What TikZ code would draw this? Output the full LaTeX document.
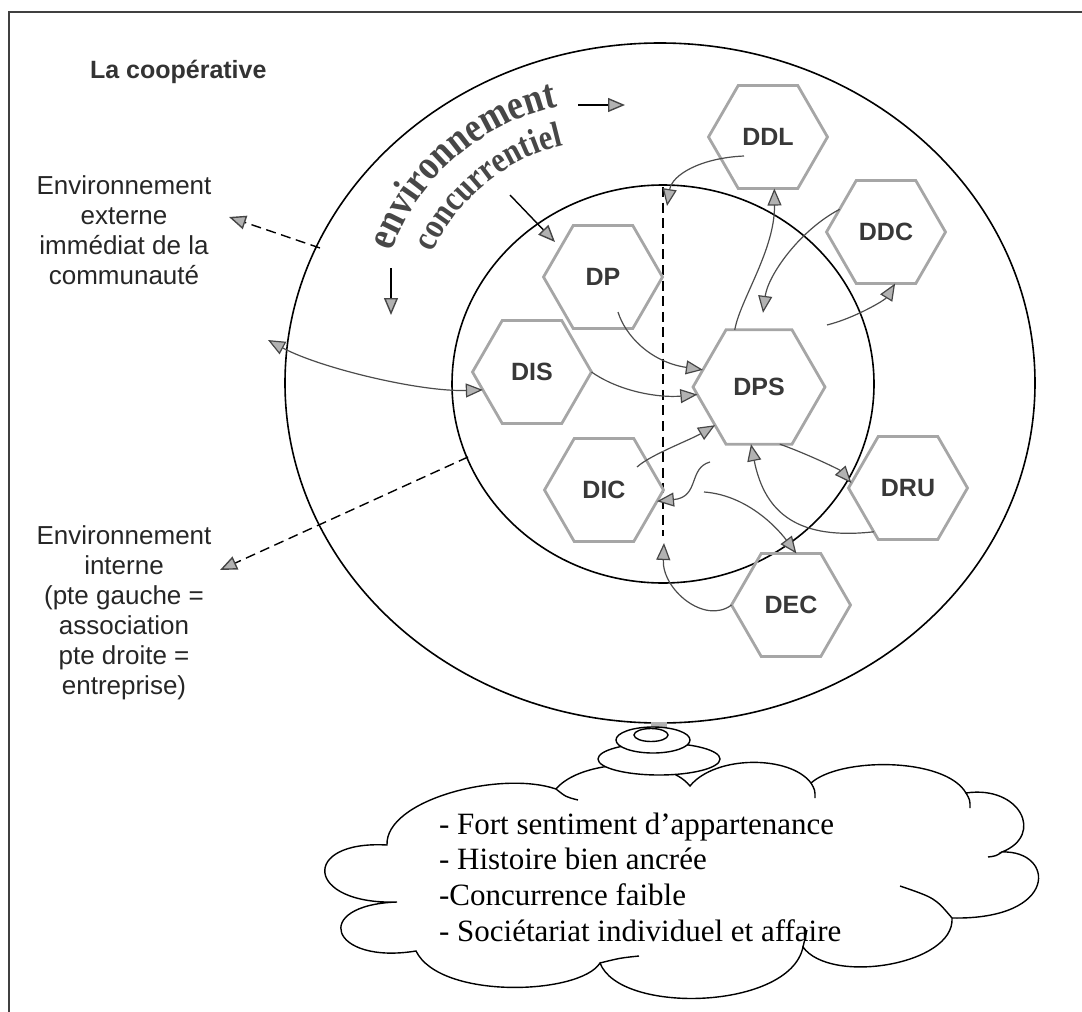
\documentclass[tikz,border=0pt]{standalone}
\usepackage{fontspec}
\setmainfont{Liberation Sans}
\newfontfamily\cloudfont{Liberation Serif}
\newfontfamily\arcfont[FakeStretch=0.85]{Liberation Serif}
\usetikzlibrary{shapes.geometric,arrows.meta,decorations.text,calc}

\begin{document}
\begin{tikzpicture}[x=0.5pt,y=0.5pt,
  >={Triangle[length=8.5pt,width=7pt,color=gray!55!black,fill=gray!60]},
  hexa/.style={regular polygon,regular polygon sides=6,minimum size=59.5pt,
    inner sep=0pt,outer sep=0pt,draw=gray!70,line width=1.4pt,
    font=\fontsize{12.5}{14}\selectfont\bfseries,text=black!78},
  bighexa/.style={hexa,minimum size=66pt},
  conn/.style={draw=gray!60!black,line width=0.6pt},
  plain/.style={draw=black,line width=0.7pt},
  dsh/.style={draw=black,line width=0.7pt,dash pattern=on 5pt off 2.8pt},
  ring/.style={draw=black,line width=0.8pt},
  lab/.style={font=\fontsize{13}{15}\selectfont,align=center,text=black!85}
]
\useasboundingbox (0,0) rectangle (1082,-1012);

% page frame (top and left edges)
\draw[line width=0.8pt,black!75] (1082,-12) -- (9,-12) -- (9,-1012);

% the two environments
\draw[ring] (660,-383) ellipse [x radius=375,y radius=340];
\draw[ring] (663,-384) ellipse [x radius=211,y radius=199];

% association / entreprise divide
\coordinate (dashT) at (663,-187);
\coordinate (dashB) at (664,-543);
\coordinate (ddlin) at (667,-206);
\draw[dsh] (dashT) -- (663,-536);

% arched title of the outer ring
\path[decorate,decoration={text along path,text align=center,
  text={|\arcfont\bfseries\fontsize{21}{21}\selectfont\color{black!72}|environnement}}]
  (605,-329) ++(176:227) arc[start angle=176,end angle=86,radius=227];
\path[decorate,decoration={text along path,text align=center,
  text={|\arcfont\bfseries\fontsize{18}{18}\selectfont\color{black!72}|concurrentiel}}]
  (605,-329) ++(174.5:188) arc[start angle=174.5,end angle=84.5,radius=188];

% rotation arrows around the arched title
\coordinate (r1s) at (578,-105); \coordinate (r1e) at (625,-105);
\coordinate (r2s) at (510,-195); \coordinate (r2e) at (555,-242);
\coordinate (r3s) at (391,-268); \coordinate (r3e) at (391,-315);
\draw[plain,->] (r1s) -- (r1e);
\draw[plain,->] (r2s) -- (r2e);
\draw[plain,->] (r3s) -- (r3e);

% labels on the left
\node[anchor=west,font=\fontsize{12.5}{14}\selectfont\bfseries,text=black!80] (title) at (83,-72) {La coopérative};
\node[lab] (extlab) at (124,-230) {Environnement\\externe\\immédiat de la\\communauté};
\node[lab] (intlab) at (124,-613) {Environnement\\interne\\(pte gauche =\\association\\pte droite =\\entreprise)};

\coordinate (d1s) at (320,-248); \coordinate (d1e) at (229,-217);
\coordinate (d2s) at (468,-457); \coordinate (d2e) at (220,-570);
\draw[dsh,->] (d1s) -- (d1e);
\draw[dsh,->] (d2s) -- (d2e);

% directions
\node[hexa] (DDL) at (768,-137) {DDL};
\node[hexa] (DDC) at (886,-232) {DDC};
\node[hexa] (DP)  at (603,-277) {DP};
\node[hexa] (DIS) at (532,-372) {DIS};
\node[bighexa] (DPS) at (759,-387) {DPS};
\node[hexa] (DIC) at (604,-490) {DIC};
\node[hexa] (DRU) at (908,-488) {DRU};
\node[hexa] (DEC) at (791,-605) {DEC};

% flows between directions
\coordinate (extL) at (268,-340);
\draw[conn,<->] (extL) .. controls (320,-368) and (420,-392) .. (DIS.200);
\draw[conn,->] ($(DP)+(15,-35)$) .. controls (625,-335) and (650,-362) .. (DPS.163);
\draw[conn,->] (DIS.east) .. controls (620,-392) and (660,-398) .. (DPS.187);
\draw[conn,->] ($(DIC)+(33,23)$) .. controls (650,-455) and (690,-440) .. (DPS.221);
\draw[conn,->] ($(DPS)+(-49,-75)$) .. controls (688,-468) and (700,-497) .. (DIC.-12);
\draw[conn,->] ($(DPS)+(-55,-105)$) .. controls (745,-495) and (775,-525) .. (DEC.84);
\draw[conn,->] (DEC.west) .. controls (705,-625) and (662,-590) .. (dashB);
\draw[conn,->] (DRU.232) .. controls (800,-540) and (765,-515) .. (DPS.262);
\draw[conn,->] (DPS.-70) .. controls (810,-455) and (840,-470) .. (DRU.175);
\draw[conn,->] (DPS.113) .. controls (740,-300) and (775,-250) .. (DDL.-83);
\draw[conn,->] ($(DDL)+(-24,-19)$) .. controls (700,-158) and (672,-175) .. (ddlin);
\draw[conn,->] (DDC.154) .. controls (800,-230) and (768,-275) .. ($(DPS.north)+(4,17)$);
\draw[conn,->] ($(DPS)+(68,62)$) .. controls (855,-318) and (885,-300) .. (DDC.-80);

% thought cloud
\draw[fill=white,line width=0.7pt]
  (387,-845) .. controls (385,-800) and (500,-770) .. (556,-789)
  .. controls (580,-760) and (665,-755) .. (690,-786)
  .. controls (715,-755) and (790,-755) .. (811,-783)
  .. controls (840,-757) and (945,-757) .. (966,-793)
  .. controls (1020,-785) and (1045,-835) .. (1002,-852)
  .. controls (1055,-850) and (1060,-920) .. (952,-918)
  .. controls (955,-965) and (830,-985) .. (803,-947)
  .. controls (790,-1010) and (620,-1015) .. (600,-963)
  .. controls (580,-995) and (440,-1000) .. (416,-951)
  .. controls (330,-965) and (310,-905) .. (397,-902)
  .. controls (305,-905) and (300,-840) .. (387,-845) -- cycle;
\draw[line width=0.7pt]
  (556,-789) .. controls (566,-797) .. (578,-800)
  (811,-783) .. controls (815,-790) .. (815,-798)
  (966,-793) .. controls (970,-800) .. (970,-808)
  (1002,-852) .. controls (996,-856) .. (988,-857)
  (952,-918) .. controls (935,-898) .. (900,-886)
  (803,-947) .. controls (805,-938) .. (807,-930)
  (600,-963) .. controls (620,-958) .. (639,-956);
\node[anchor=west,align=left,font=\cloudfont\fontsize{15.5}{17.8}\selectfont] (facts) at (432,-877)
  {- Fort sentiment d’appartenance\\- Histoire bien ancrée\\-Concurrence faible\\- Sociétariat individuel et affaire};

% stand of the globe
\fill[gray!60] (651,-722) rectangle (667,-731);
\draw[fill=white,line width=0.7pt] (659,-759) ellipse [x radius=61,y radius=16];
\draw[fill=white,line width=0.7pt] (653,-740) ellipse [x radius=37,y radius=13];
\draw[line width=0.7pt] (651,-735) ellipse [x radius=17,y radius=6.5];
\end{tikzpicture}
\end{document}
